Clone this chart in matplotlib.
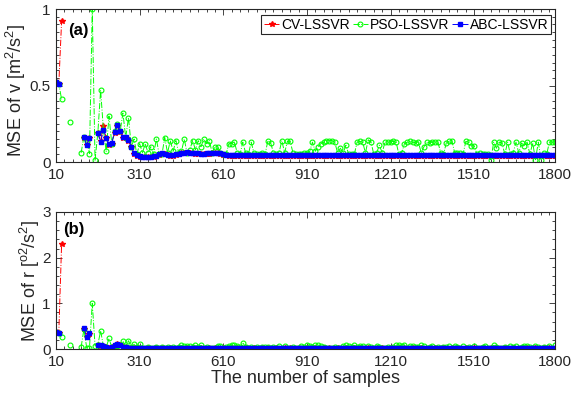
import numpy as np
import matplotlib
matplotlib.use('Agg')
import matplotlib.pyplot as plt
from matplotlib.ticker import MultipleLocator, FixedLocator

plt.rcParams['font.family'] = ['Liberation Sans', 'DejaVu Sans']
plt.rcParams['mathtext.fontset'] = 'custom'
plt.rcParams['mathtext.rm'] = 'Liberation Sans'
plt.rcParams['mathtext.it'] = 'Liberation Sans'

nan = np.nan

# -------------------------------- Data --------------------------------
samples = np.arange(10, 1801, 10)
xticks = [10, 310, 610, 910, 1210, 1510, 1800]
labels = ['CV-LSSVR', 'PSO-LSSVR', 'ABC-LSSVR']

# (a) MSE of v
cv_v = [
    0.52, 0.51, 0.92, nan, nan, nan, nan, nan, nan, nan,
    0.16, 0.11, 0.16, nan, nan, 0.19, 0.14, 0.235, 0.155, 0.11,
    0.12, 0.19, 0.235, 0.195, 0.16, 0.16, 0.14, 0.095, 0.055, 0.04,
    0.036, 0.032, 0.03, 0.03, 0.031, 0.033, 0.038, 0.046, 0.053, 0.051,
    0.044, 0.041, 0.042, 0.046, 0.051, 0.056, 0.058, 0.059, 0.058, 0.056,
    0.054, 0.052, 0.051, 0.051, 0.052, 0.054, 0.056, 0.058, 0.056, 0.053,
    0.048, 0.044, 0.042, 0.041, 0.041, 0.042, 0.041, 0.04, 0.041, 0.041,
    0.04, 0.041, 0.04, 0.039, 0.04, 0.041, 0.04, 0.04, 0.039, 0.04,
    0.041, 0.04, 0.04, 0.041, 0.04, 0.039, 0.04, 0.04, 0.041, 0.04,
    0.04, 0.039, 0.04, 0.041, 0.04, 0.04, 0.041, 0.04, 0.039, 0.04,
    0.04, 0.041, 0.04, 0.04, 0.039, 0.04, 0.041, 0.04, 0.04, 0.041,
    0.04, 0.039, 0.04, 0.04, 0.041, 0.04, 0.04, 0.039, 0.04, 0.041,
    0.04, 0.04, 0.041, 0.04, 0.039, 0.04, 0.04, 0.041, 0.04, 0.04,
    0.039, 0.04, 0.041, 0.04, 0.04, 0.04, 0.039, 0.04, 0.041, 0.04,
    0.04, 0.041, 0.04, 0.039, 0.04, 0.04, 0.041, 0.04, 0.04, 0.039,
    0.04, 0.04, 0.041, 0.04, 0.04, 0.039, 0.04, 0.041, 0.04, 0.04,
    0.041, 0.04, 0.039, 0.04, 0.04, 0.041, 0.04, 0.04, 0.039, 0.04,
    0.04, 0.041, 0.04, 0.04, 0.039, 0.04, 0.041, 0.04, 0.04, 0.041,
]
pso_v = [
    0.52, 0.51, 0.41, nan, nan, 0.26, nan, nan, nan, 0.06,
    0.165, 0.14, 0.055, 1.0, 0.012, 0.19, 0.47, 0.21, 0.07, 0.30,
    0.12, 0.20, 0.25, 0.20, 0.32, 0.16, 0.29, 0.10, 0.15, 0.05,
    0.12, 0.06, 0.12, 0.06, 0.10, 0.05, 0.15, 0.05, 0.05, 0.16,
    0.06, 0.14, 0.07, 0.14, 0.06, 0.07, 0.15, 0.06, 0.08, 0.14,
    0.08, 0.14, 0.10, 0.15, 0.12, 0.14, 0.06, 0.10, 0.10, 0.06,
    0.05, 0.05, 0.12, 0.12, 0.13, 0.06, 0.05, 0.13, 0.06, 0.05,
    0.13, 0.06, 0.05, 0.05, 0.06, 0.05, 0.14, 0.125, 0.06, 0.05,
    0.06, 0.14, 0.06, 0.135, 0.135, 0.06, 0.05, 0.05, 0.05, 0.06,
    0.06, 0.07, 0.13, 0.07, 0.10, 0.12, 0.13, 0.14, 0.14, 0.14,
    0.13, 0.06, 0.09, 0.06, 0.11, 0.05, 0.05, 0.05, 0.13, 0.135,
    0.13, 0.06, 0.145, 0.13, 0.05, 0.06, 0.11, 0.06, 0.13, 0.13,
    0.13, 0.135, 0.13, 0.05, 0.06, 0.12, 0.13, 0.135, 0.13, 0.125,
    0.13, 0.06, 0.10, 0.13, 0.125, 0.13, 0.13, 0.13, 0.06, 0.05,
    0.125, 0.135, 0.14, 0.06, 0.06, 0.06, 0.05, 0.135, 0.13, 0.105,
    0.105, 0.05, 0.06, 0.05, 0.05, 0.05, 0.015, 0.13, 0.09, 0.13,
    0.125, 0.05, 0.13, 0.05, 0.06, 0.13, 0.06, 0.125, 0.105, 0.13,
    0.05, 0.125, 0.015, 0.13, 0.015, 0.06, 0.05, 0.13, 0.13, 0.13,
]
abc_v = [
    0.52, 0.51, nan, nan, nan, nan, nan, nan, nan, nan,
    0.165, 0.11, 0.155, nan, nan, 0.187, 0.13, 0.21, 0.16, 0.115,
    0.125, 0.195, 0.24, 0.20, 0.165, 0.165, 0.145, 0.10, 0.06, 0.045,
    0.04, 0.036, 0.034, 0.034, 0.035, 0.037, 0.042, 0.05, 0.057, 0.055,
    0.048, 0.045, 0.046, 0.05, 0.055, 0.06, 0.062, 0.063, 0.062, 0.06,
    0.058, 0.056, 0.055, 0.055, 0.056, 0.058, 0.06, 0.062, 0.06, 0.057,
    0.052, 0.048, 0.046, 0.045, 0.045, 0.046, 0.045, 0.044, 0.045, 0.045,
    0.044, 0.045, 0.044, 0.043, 0.044, 0.045, 0.044, 0.044, 0.043, 0.044,
    0.045, 0.044, 0.044, 0.045, 0.044, 0.043, 0.044, 0.044, 0.045, 0.044,
    0.044, 0.043, 0.044, 0.045, 0.044, 0.044, 0.045, 0.044, 0.043, 0.044,
    0.044, 0.045, 0.044, 0.044, 0.043, 0.044, 0.045, 0.044, 0.044, 0.045,
    0.044, 0.043, 0.044, 0.044, 0.045, 0.044, 0.044, 0.043, 0.044, 0.045,
    0.044, 0.044, 0.045, 0.044, 0.043, 0.044, 0.044, 0.045, 0.044, 0.044,
    0.043, 0.044, 0.045, 0.044, 0.044, 0.044, 0.043, 0.044, 0.045, 0.044,
    0.044, 0.045, 0.044, 0.043, 0.044, 0.044, 0.045, 0.044, 0.044, 0.043,
    0.044, 0.044, 0.045, 0.044, 0.044, 0.043, 0.044, 0.045, 0.044, 0.044,
    0.045, 0.044, 0.043, 0.044, 0.044, 0.045, 0.044, 0.044, 0.043, 0.044,
    0.044, 0.045, 0.044, 0.044, 0.043, 0.044, 0.045, 0.044, 0.044, 0.045,
]

# (b) MSE of r
cv_r = [
    0.38, 0.36, 2.29, nan, nan, nan, nan, nan, nan, nan,
    0.44, 0.26, 0.33, nan, nan, 0.085, 0.075, 0.055, 0.035, 0.025,
    0.045, 0.075, 0.10, 0.085, 0.045, 0.035, 0.025, 0.02, 0.015, 0.015,
    0.012, 0.01, 0.01, 0.012, 0.01, 0.01, 0.012, 0.01, 0.012, 0.01,
    0.01, 0.012, 0.01, 0.01, 0.012, 0.01, 0.01, 0.012, 0.01, 0.012,
    0.01, 0.01, 0.012, 0.01, 0.01, 0.012, 0.01, 0.012, 0.01, 0.01,
    0.012, 0.01, 0.01, 0.012, 0.01, 0.012, 0.01, 0.01, 0.012, 0.01,
    0.01, 0.012, 0.01, 0.01, 0.012, 0.01, 0.012, 0.01, 0.01, 0.012,
    0.01, 0.01, 0.012, 0.01, 0.012, 0.01, 0.01, 0.012, 0.01, 0.01,
    0.012, 0.01, 0.01, 0.012, 0.01, 0.01, 0.012, 0.01, 0.012, 0.01,
    0.01, 0.012, 0.01, 0.01, 0.012, 0.01, 0.01, 0.012, 0.01, 0.012,
    0.01, 0.01, 0.012, 0.01, 0.01, 0.012, 0.01, 0.012, 0.01, 0.01,
    0.012, 0.01, 0.01, 0.012, 0.01, 0.012, 0.01, 0.01, 0.012, 0.01,
    0.01, 0.012, 0.01, 0.01, 0.012, 0.01, 0.012, 0.01, 0.01, 0.012,
    0.01, 0.01, 0.012, 0.01, 0.012, 0.01, 0.01, 0.012, 0.01, 0.01,
    0.012, 0.01, 0.01, 0.012, 0.01, 0.01, 0.012, 0.01, 0.012, 0.01,
    0.01, 0.012, 0.01, 0.01, 0.012, 0.01, 0.01, 0.012, 0.01, 0.012,
    0.01, 0.01, 0.012, 0.01, 0.01, 0.012, 0.01, 0.012, 0.01, 0.01,
]
pso_r = [
    0.38, 0.36, 0.26, nan, nan, 0.09, nan, nan, nan, 0.04,
    0.43, 0.03, 0.03, 1.0, 0.07, 0.09, 0.40, 0.06, 0.04, 0.23,
    0.04, 0.05, 0.06, 0.05, 0.175, 0.05, 0.18, 0.05, 0.10, 0.04,
    0.10, 0.03, 0.03, 0.04, 0.03, 0.03, 0.05, 0.03, 0.04, 0.03,
    0.04, 0.03, 0.05, 0.03, 0.04, 0.08, 0.06, 0.07, 0.06, 0.04,
    0.08, 0.04, 0.08, 0.03, 0.04, 0.03, 0.03, 0.03, 0.07, 0.06,
    0.03, 0.04, 0.07, 0.09, 0.08, 0.07, 0.04, 0.14, 0.04, 0.03,
    0.04, 0.03, 0.04, 0.03, 0.04, 0.05, 0.04, 0.03, 0.04, 0.03,
    0.07, 0.03, 0.06, 0.03, 0.03, 0.04, 0.03, 0.03, 0.07, 0.04,
    0.08, 0.07, 0.04, 0.09, 0.08, 0.07, 0.04, 0.03, 0.03, 0.03,
    0.04, 0.03, 0.03, 0.07, 0.08, 0.07, 0.05, 0.08, 0.04, 0.07,
    0.07, 0.03, 0.06, 0.04, 0.03, 0.07, 0.04, 0.03, 0.03, 0.04,
    0.03, 0.04, 0.08, 0.09, 0.07, 0.08, 0.03, 0.07, 0.06, 0.04,
    0.05, 0.08, 0.07, 0.03, 0.04, 0.07, 0.03, 0.04, 0.03, 0.04,
    0.04, 0.06, 0.03, 0.07, 0.04, 0.03, 0.06, 0.03, 0.04, 0.03,
    0.06, 0.03, 0.03, 0.04, 0.07, 0.03, 0.03, 0.08, 0.04, 0.03,
    0.03, 0.05, 0.03, 0.06, 0.04, 0.07, 0.03, 0.05, 0.07, 0.06,
    0.04, 0.03, 0.07, 0.05, 0.03, 0.04, 0.03, 0.06, 0.03, 0.08,
]
abc_r = [
    0.38, 0.36, nan, nan, nan, nan, nan, nan, nan, nan,
    0.45, 0.27, 0.34, nan, nan, 0.09, 0.08, 0.06, 0.04, 0.03,
    0.05, 0.08, 0.11, 0.09, 0.05, 0.04, 0.03, 0.025, 0.02, 0.02,
    0.02, 0.018, 0.02, 0.022, 0.02, 0.018, 0.02, 0.02, 0.022, 0.02,
    0.018, 0.02, 0.02, 0.022, 0.02, 0.018, 0.02, 0.02, 0.022, 0.02,
    0.02, 0.018, 0.02, 0.022, 0.02, 0.02, 0.018, 0.02, 0.022, 0.02,
    0.02, 0.02, 0.018, 0.02, 0.022, 0.02, 0.02, 0.018, 0.02, 0.022,
    0.02, 0.02, 0.018, 0.02, 0.022, 0.02, 0.02, 0.018, 0.02, 0.02,
    0.022, 0.02, 0.02, 0.018, 0.02, 0.022, 0.02, 0.02, 0.018, 0.02,
    0.02, 0.022, 0.02, 0.02, 0.018, 0.02, 0.022, 0.02, 0.02, 0.018,
    0.02, 0.02, 0.022, 0.02, 0.02, 0.018, 0.02, 0.022, 0.02, 0.02,
    0.018, 0.02, 0.02, 0.022, 0.02, 0.02, 0.018, 0.02, 0.022, 0.02,
    0.02, 0.018, 0.02, 0.02, 0.022, 0.02, 0.02, 0.018, 0.02, 0.022,
    0.02, 0.02, 0.018, 0.02, 0.02, 0.022, 0.02, 0.02, 0.018, 0.02,
    0.022, 0.02, 0.02, 0.018, 0.02, 0.02, 0.022, 0.02, 0.02, 0.018,
    0.02, 0.022, 0.02, 0.02, 0.018, 0.02, 0.02, 0.022, 0.02, 0.02,
    0.018, 0.02, 0.022, 0.02, 0.02, 0.018, 0.02, 0.02, 0.022, 0.02,
    0.02, 0.018, 0.02, 0.022, 0.02, 0.02, 0.018, 0.02, 0.02, 0.022,
]

# -------------------------------- Plot --------------------------------
fig = plt.figure(figsize=(5.74, 3.97), dpi=100)
ax1 = fig.add_axes([0.0976, 0.5919, 0.8693, 0.3854])
ax2 = fig.add_axes([0.0976, 0.1209, 0.8693, 0.3451])


def draw(ax, cv, pso, abc):
    ax.plot(samples, cv, color='red', linestyle='-.', linewidth=0.7,
            marker='*', markersize=4, label=labels[0])
    ax.plot(samples, pso, color=(0, 1, 0), linestyle='-.', linewidth=0.7,
            marker='o', markersize=3.5, markerfacecolor='none',
            markeredgewidth=0.8, label=labels[1])
    ax.plot(samples, abc, color='blue', linestyle='-.', linewidth=0.7,
            marker='s', markersize=2.5, label=labels[2])
    ax.set_xlim(10, 1800)
    ax.xaxis.set_major_locator(FixedLocator(xticks))
    ax.xaxis.set_minor_locator(FixedLocator(np.arange(10, 1800, 30)))
    ax.tick_params(which='both', direction='in', top=True, right=True,
                   labelsize=11, width=0.6, color='#262626',
                   labelcolor='#262626')
    ax.tick_params(which='major', length=4, pad=4)
    ax.tick_params(which='minor', length=2.2)
    for s in ax.spines.values():
        s.set_linewidth(0.8)
        s.set_color('#262626')


draw(ax1, cv_v, pso_v, abc_v)
ax1.set_ylim(0, 1)
ax1.set_yticks([0, 0.5, 1])
ax1.set_yticklabels(['0', '0.5', '1'])
ax1.yaxis.set_minor_locator(MultipleLocator(0.05))
ax1.set_ylabel(r'MSE of v [m$^2$/s$^2$]', fontsize=13, color='#262626')
ax1.yaxis.set_label_coords(-0.056, 0.47)
ax1.text(0.024, 0.86, '(a)', transform=ax1.transAxes, fontsize=12,
         fontweight='bold', va='center')
leg = ax1.legend(loc='upper right', bbox_to_anchor=(0.992, 0.962), ncol=3,
                 fontsize=10, frameon=True, fancybox=False, borderaxespad=0,
                 handlelength=1.1, handletextpad=0.15, columnspacing=0.2,
                 borderpad=0.2)
leg.get_frame().set_edgecolor('#262626')
leg.get_frame().set_linewidth(0.8)
leg.get_frame().set_alpha(1)

draw(ax2, cv_r, pso_r, abc_r)
ax2.set_ylim(0, 3)
ax2.set_yticks([0, 1, 2, 3])
ax2.yaxis.set_minor_locator(MultipleLocator(0.2))
ax2.set_ylabel(r'MSE of r [$^{o2}$/s$^2$]', fontsize=13, color='#262626')
ax2.yaxis.set_label_coords(-0.028, 0.5)
ax2.set_xlabel('The number of samples', fontsize=13, labelpad=1,
               color='#262626')
ax2.text(0.014, 0.87, '(b)', transform=ax2.transAxes, fontsize=12,
         fontweight='bold', va='center')

fig.savefig('out.png', dpi=100)
